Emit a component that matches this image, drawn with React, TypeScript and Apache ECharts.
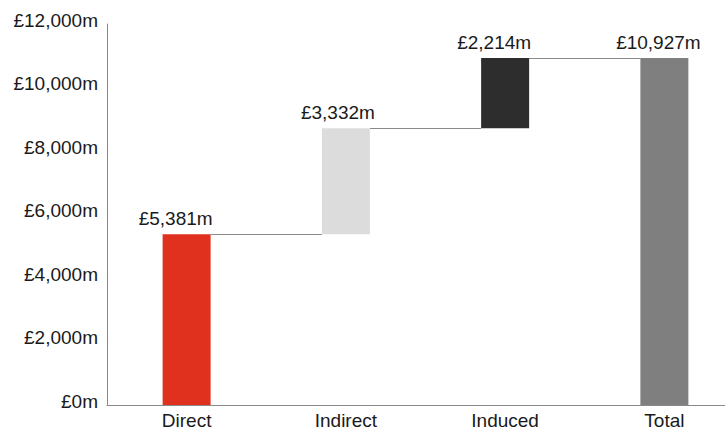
import React, { useEffect, useRef } from "react";
import * as echarts from "echarts";

const categories = ["Direct", "Indirect", "Induced", "Total"];
const increments = [5381, 3332, 2214, 10927];
const isTotal = [false, false, false, true];
const barColors = ["#e0311f", "#dcdcdc", "#2d2d2d", "#7f7f7f"];
const labelShift = [-11, -8, -11, -6];
const yTicks = [0, 2000, 4000, 6000, 8000, 10000, 12000];

const FONT = "'Liberation Sans', Arial, Helvetica, sans-serif";

export default function App() {
  const ref = useRef<HTMLDivElement>(null);
  useEffect(() => {
    if (!ref.current) return;
    const chart = echarts.init(ref.current, null, { renderer: "svg" });

    const bases: number[] = [];
    let run = 0;
    increments.forEach((v, i) => {
      if (isTotal[i]) {
        bases.push(0);
      } else {
        bases.push(run);
        run += v;
      }
    });
    const levels = increments.map((v, i) => bases[i] + v);
    const connectors = levels.slice(0, -1).map((lv, i) => [i, lv]);
    const BAR_W = 48;

    chart.setOption({
      animation: false,
      grid: {
        left: 107,
        width: 637,
        top: 24,
        bottom: 26,
        outerBoundsMode: "none",
        containLabel: false,
      },
      xAxis: {
        type: "category",
        data: categories,
        axisLine: { show: true, lineStyle: { color: "#8a8a8a", width: 1 } },
        axisTick: { show: false },
        axisLabel: {
          color: "#1a1a1a",
          fontFamily: FONT,
          fontSize: 19,
          margin: 6,
        },
      },
      yAxis: {
        type: "value",
        min: yTicks[0],
        max: yTicks[yTicks.length - 1],
        interval: 2000,
        axisLine: { show: true, lineStyle: { color: "#8a8a8a", width: 1 } },
        axisTick: { show: false },
        splitLine: { show: false },
        axisLabel: {
          color: "#1a1a1a",
          fontFamily: FONT,
          fontSize: 19,
          margin: 9,
          verticalAlign: "bottom",
          lineHeight: 8,
          formatter: (v: number) => "£" + v.toLocaleString("en-GB") + "m",
        },
      },
      series: [
        {
          type: "bar",
          stack: "w",
          data: bases,
          barWidth: BAR_W,
          itemStyle: { color: "transparent" },
          silent: true,
        },
        {
          type: "bar",
          stack: "w",
          barWidth: BAR_W,
          data: increments.map((v, i) => ({
            value: v,
            itemStyle: { color: barColors[i] },
            label: { offset: [labelShift[i], 0] },
          })),
          label: {
            show: true,
            position: "top",
            distance: 6,
            color: "#1a1a1a",
            fontFamily: FONT,
            fontSize: 19,
            formatter: (p: any) => "£" + p.value.toLocaleString("en-GB") + "m",
          },
        },
        {
          type: "custom",
          data: connectors,
          silent: true,
          z: 1,
          renderItem: (params: any, api: any) => {
            const i = api.value(0);
            const lv = api.value(1);
            const p0 = api.coord([i, lv]);
            const p1 = api.coord([i + 1, lv]);
            const y = Math.round(p0[1]) + 0.5;
            return {
              type: "line",
              shape: {
                x1: p0[0] + BAR_W / 2,
                y1: y,
                x2: p1[0] - BAR_W / 2,
                y2: y,
              },
              style: { stroke: "#8a8a8a", lineWidth: 1 },
            };
          },
        },
      ],
    });
    return () => chart.dispose();
  }, []);
  return (
    <div
      ref={ref}
      style={{ position: "absolute", left: 0, top: 0, width: 725, height: 431, background: "#fff", overflow: "hidden" }}
    />
  );
}
